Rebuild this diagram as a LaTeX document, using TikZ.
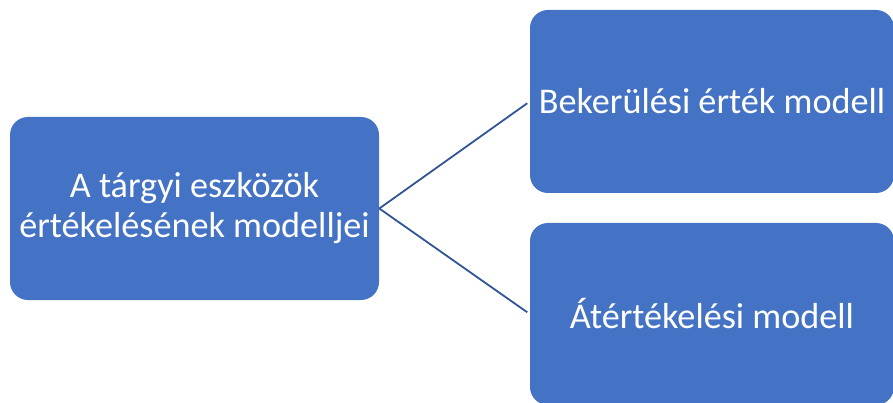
\documentclass[tikz,border=0pt]{standalone}
\usepackage{fontspec}
\setmainfont{Carlito}
\usepackage{xcolor}
\usepackage{tikz}
\usetikzlibrary{positioning}

\definecolor{boxblue}{RGB}{68,114,196}
\definecolor{lineblue}{RGB}{47,85,151}

\begin{document}
\begin{tikzpicture}[x=1pt,y=-1pt,-,semithick]
  \tikzstyle{every node}=[font=\fontsize{36.2}{40}\selectfont]
  \tikzstyle{modelbox}=[rectangle,rounded corners=18pt,fill=boxblue,draw=none,
                        text=white,align=center,inner sep=0pt]
  \tikzstyle{fork}=[draw=lineblue,line width=1.8pt,shorten >=3pt]

  \clip (0,0) rectangle (893,403);

  \node[modelbox,minimum width=369pt,minimum height=183pt] (Modellek) at (194.5,208.5)
        {A tárgyi eszközök\\értékelésének modelljei};
  \node[modelbox,minimum width=364pt,minimum height=183pt] (Bekerules) at (712,101.5)
        {Bekerülési érték modell};
  \node[modelbox,minimum width=364pt,minimum height=182pt] (Atertekeles) at (712,314)
        {Átértékelési modell};

  \path (Modellek.east) edge [fork] (Bekerules.west)
                        edge [fork] (Atertekeles.west);
\end{tikzpicture}
\end{document}
